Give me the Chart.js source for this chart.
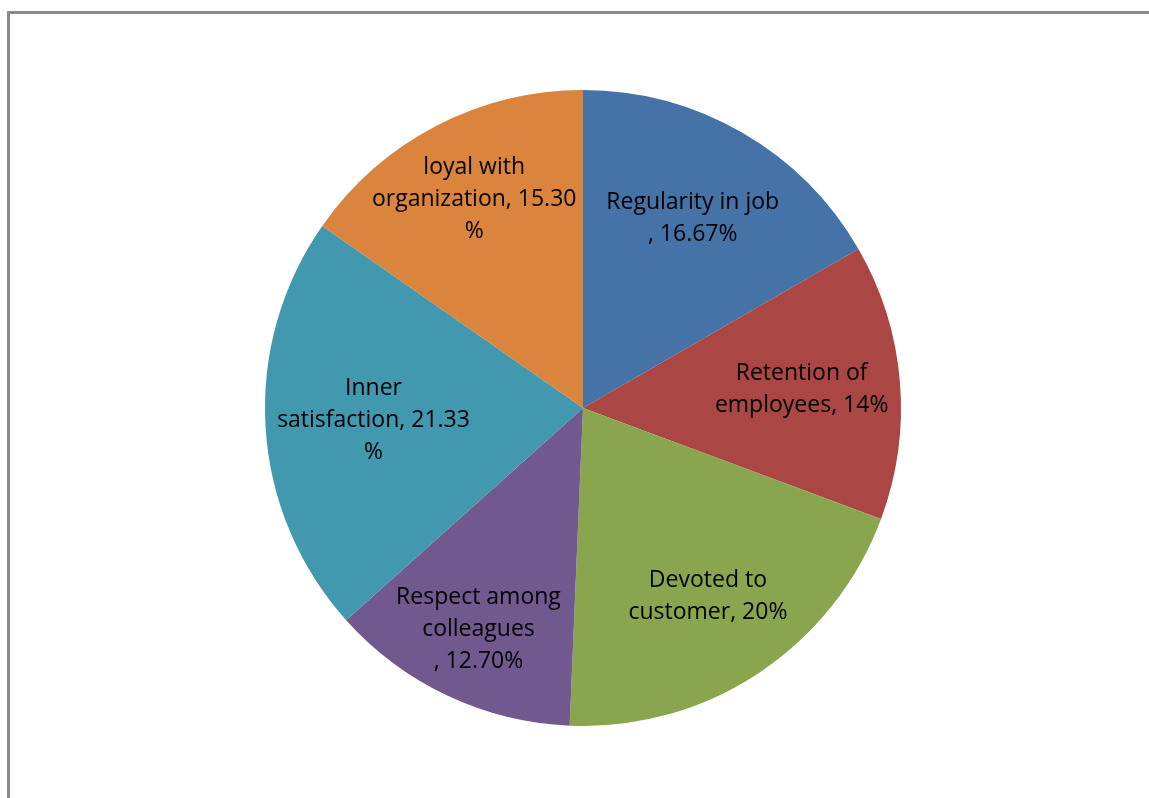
<!DOCTYPE html>
<html>
<head>
<meta charset="utf-8">
<script src="https://cdn.jsdelivr.net/npm/chart.js@4"></script>
<style>
  html, body { margin: 0; padding: 0; background: #fff; }
  body { width: 1149px; height: 798px; position: relative; overflow: hidden; }
  #frame {
    position: absolute; left: 7px; top: 11px; right: -10px; bottom: -10px;
    border-left: 3px solid #8a8a8a; border-top: 3px solid #8a8a8a;
  }
  #wrap { position: absolute; left: 165px; top: 0; width: 836px; height: 798px; }
</style>
</head>
<body>
<div id="frame"></div>
<div id="wrap"><canvas id="pie" width="836" height="798"></canvas></div>
<script>
const labelLines = [
  ['Regularity in job', ', {v}%'],
  ['Retention of', 'employees, {v}%'],
  ['Devoted to', 'customer, {v}%'],
  ['Respect among', 'colleagues', ', {v}%'],
  ['Inner', 'satisfaction, {v}', '%'],
  ['loyal with', 'organization, {v}', '%']
];
const valueText = ['16.67', '14', '20', '12.70', '21.33', '15.30'];
const values = valueText.map(Number);
const colors = ['#4572A7', '#AA4643', '#89A54E', '#71588F', '#4198AF', '#DB843D'];

// how far out along the slice's middle each text block sits, as a share of the radius
const labelDist = [0.69, 0.69, 0.71, 0.77, 0.66, 0.74];

const sliceLabels = {
  id: 'sliceLabels',
  afterDatasetsDraw(chart) {
    const ctx = chart.ctx;
    const arcs = chart.getDatasetMeta(0).data;
    ctx.save();
    ctx.font = '23px "Open Sans", sans-serif';
    ctx.fillStyle = '#000';
    ctx.textAlign = 'center';
    ctx.textBaseline = 'middle';
    arcs.forEach((arc, i) => {
      const p = arc.getProps(['x', 'y', 'startAngle', 'endAngle', 'outerRadius'], true);
      const mid = (p.startAngle + p.endAngle) / 2;
      const r = p.outerRadius * labelDist[i];
      const cx = p.x + Math.cos(mid) * r;
      const cy = p.y + Math.sin(mid) * r;
      const lines = labelLines[i].map(s => s.replace('{v}', valueText[i]));
      const lh = 32;
      lines.forEach((line, j) => {
        ctx.fillText(line, cx, cy + (j - (lines.length - 1) / 2) * lh);
      });
    });
    ctx.restore();
  }
};

new Chart(document.getElementById('pie'), {
  type: 'pie',
  data: {
    labels: labelLines.map(l => l.join(' ').replace('{v}', '')),
    datasets: [{
      data: values,
      backgroundColor: colors,
      borderWidth: 0
    }]
  },
  options: {
    responsive: false,
    animation: false,
    layout: { padding: { left: 100, right: 100, top: 90, bottom: 72 } },
    plugins: { legend: { display: false }, tooltip: { enabled: false } }
  },
  plugins: [sliceLabels]
});
</script>
</body>
</html>
